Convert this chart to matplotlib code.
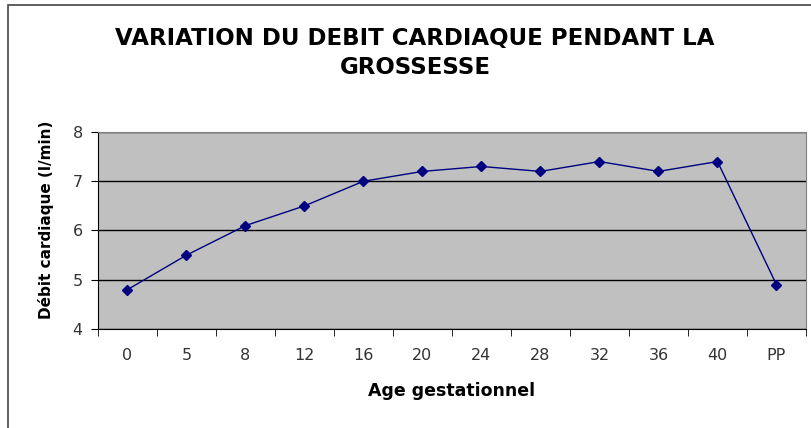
import numpy as np
import matplotlib.pyplot as plt
from matplotlib.patches import Rectangle

plt.rcParams['font.family'] = ['DejaVu Sans']

# data
semaines = ['0', '5', '8', '12', '16', '20', '24', '28', '32', '36', '40', 'PP']
debit = [4.8, 5.5, 6.1, 6.5, 7.0, 7.2, 7.3, 7.2, 7.4, 7.2, 7.4, 4.9]

W, H = 812, 428
fig = plt.figure(figsize=(W / 100, H / 100), dpi=100)
ax = fig.add_axes([98 / W, 1 - 329 / H, (806 - 98) / W, (329 - 132) / H])

x = np.arange(len(semaines))
ax.set_facecolor('#C0C0C0')
ax.plot(x, debit, color='#000080', lw=1, marker='D', ms=5.5, zorder=3)

ax.set_xlim(-0.5, len(semaines) - 0.5)
ax.set_ylim(4, 8)
ax.set_yticks([4, 5, 6, 7, 8])
ax.yaxis.grid(True, color='black', lw=1)
ax.set_axisbelow(True)

ax.set_xticks(x)
ax.set_xticklabels(semaines)
ax.set_xticks(np.arange(-0.5, len(semaines)), minor=True)
ax.tick_params(axis='x', which='major', length=0, pad=14, labelsize=11.5, colors='#333333')
ax.tick_params(axis='x', which='minor', length=5, direction='out', color='black')
ax.tick_params(axis='y', length=5, direction='out', labelsize=11.5, pad=6, colors='#333333')
ax.tick_params(axis='y', color='black')

for s in ['top', 'right']:
    ax.spines[s].set_color('#808080')
for s in ['left', 'bottom']:
    ax.spines[s].set_color('black')

ax.set_xlabel('Age gestationnel', fontsize=12.5, fontweight='bold')
ax.xaxis.set_label_coords(0.5, -(391 - 329) / 197, transform=ax.transAxes)
ax.xaxis.label.set_va('center')
ax.set_ylabel('Débit cardiaque (l/min)', fontsize=11, fontweight='bold')
ax.yaxis.set_label_coords(-(98 - 46) / 708, (329 - 220) / 197)
ax.yaxis.label.set_va('center')

fig.text(415 / W, 1 - 53 / H, 'VARIATION DU DEBIT CARDIAQUE PENDANT LA\nGROSSESSE',
         ha='center', va='center', fontsize=16.5, fontweight='bold', linespacing=1.35)

# outer frame (cut at the right and bottom edges like the original image)
fig.patches.append(Rectangle((8 / W, -0.1), 1.1, 1 - 5 / H + 0.1, transform=fig.transFigure,
                             fill=False, ec='#444444', lw=1.2))

fig.savefig('out.png', dpi=100)
